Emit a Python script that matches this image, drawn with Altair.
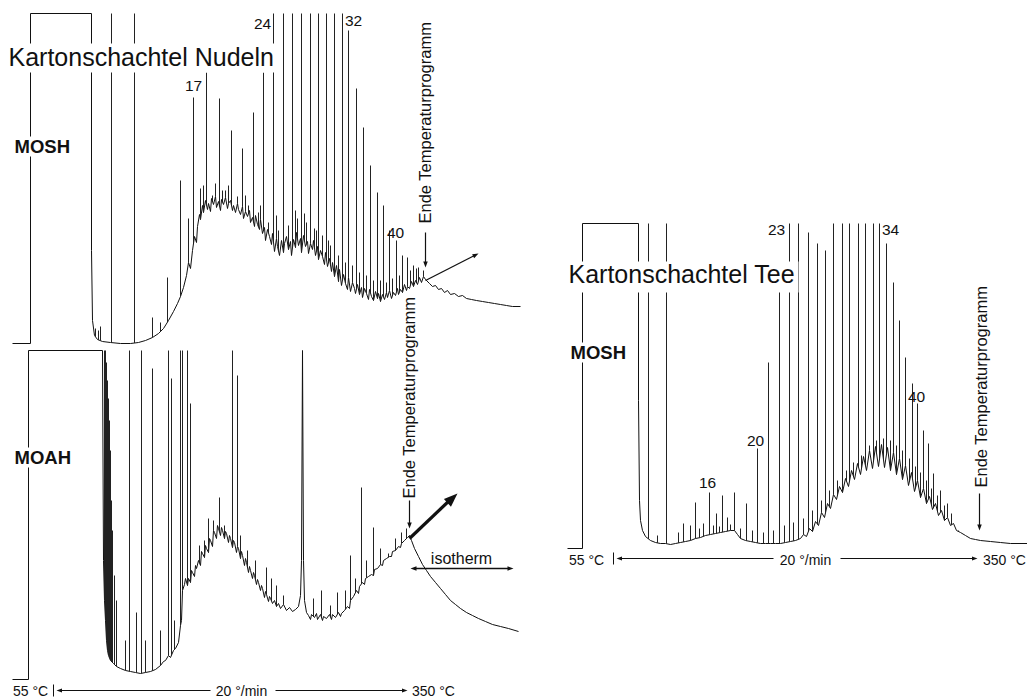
import altair as alt
import numpy as np
import pandas as pd

FONT = "Liberation Sans"
INK = "#111111"

# Page grid: x runs left to right, y runs downward (0 = top edge)
W, H = 1027, 698

# ---------- Kartonschachtel Nudeln, MOSH fraction ----------
nudeln_mosh_trace = [
    (12, 343), (30, 343), (30, 13), (91, 13), (91, 250), (92, 320), (94, 335), (97, 339),
    (102, 341), (110, 342), (120, 343), (130, 343), (138, 342), (145, 340), (152, 337),
    (158, 333), (163, 328), (168, 320), (173, 311), (177, 303), (180, 296), (183, 287),
    (186, 275), (188, 262), (190, 268), (192, 250), (194, 236), (196, 242), (197, 226),
    (199, 214), (200, 219), (202, 205), (203, 212), (205, 200), (207, 209), (208, 203),
    (210, 211), (211, 198), (213, 204), (215, 196), (216, 207), (218, 201), (220, 210),
    (221, 199), (223, 204), (225, 197), (227, 208), (228, 203), (230, 200), (232, 210),
    (233, 205), (235, 212), (237, 203), (238, 209), (240, 214), (242, 206), (243, 218),
    (245, 211), (247, 216), (249, 210), (250, 222), (252, 217), (254, 226), (255, 215),
    (257, 224), (259, 229), (260, 219), (262, 233), (264, 227), (265, 240), (267, 229),
    (269, 236), (271, 244), (272, 233), (274, 251), (276, 238), (277, 246), (279, 255),
    (281, 240), (283, 252), (284, 243), (286, 236), (288, 249), (290, 241), (291, 255),
    (293, 239), (295, 247), (296, 232), (298, 245), (300, 238), (301, 252), (303, 235),
    (305, 246), (307, 241), (308, 253), (310, 243), (312, 249), (313, 240), (315, 255),
    (317, 246), (318, 259), (320, 250), (322, 256), (324, 264), (325, 252), (327, 266),
    (329, 258), (331, 271), (332, 262), (334, 276), (336, 265), (338, 281), (339, 269),
    (341, 285), (343, 274), (345, 283), (347, 289), (348, 277), (350, 291), (352, 282),
    (354, 288), (355, 293), (357, 284), (359, 294), (361, 287), (362, 297), (364, 288),
    (366, 293), (368, 299), (369, 289), (371, 296), (373, 300), (375, 291), (377, 298),
    (378, 293), (380, 301), (382, 294), (384, 299), (386, 292), (387, 297), (389, 290),
    (391, 298), (393, 292), (395, 295), (397, 288), (398, 294), (400, 289), (402, 292),
    (404, 284), (406, 290), (407, 286), (409, 288), (411, 281), (413, 286), (415, 280),
    (417, 284), (419, 277), (421, 282), (423, 276), (425, 279), (429, 283), (432, 286),
    (435, 285), (438, 289), (441, 288), (444, 292), (447, 290), (450, 294), (454, 293),
    (458, 296), (462, 295), (466, 298), (471, 299), (476, 300), (482, 301), (488, 302),
    (494, 303), (500, 304), (506, 305), (512, 306), (520, 306),
]
nudeln_mosh_peaks = [
    (95, 328), (98, 330), (100, 326), (111, 13), (134, 13), (152, 317), (160, 322),
    (167, 277), (180, 180), (188, 218), (193, 97), (200, 188), (203, 185), (206, 72),
    (212, 195), (215, 183), (219, 98), (222, 190), (225, 190), (228, 185), (231, 130),
    (237, 196), (242, 148), (245, 195), (248, 205), (253, 112), (258, 212), (260, 205),
    (263, 72), (268, 222), (273, 13), (276, 215), (278, 230), (283, 13), (288, 225),
    (292, 13), (295, 210), (297, 218), (301, 13), (304, 213), (306, 222), (310, 13),
    (314, 228), (316, 230), (318, 13), (322, 235), (326, 13), (328, 240), (330, 245),
    (334, 13), (338, 255), (342, 13), (345, 262), (348, 30), (352, 265), (356, 88),
    (359, 272), (363, 127), (366, 275), (370, 165), (373, 280), (377, 192), (380, 280),
    (383, 205), (386, 282), (389, 230), (392, 278), (396, 240), (399, 275), (402, 255),
    (407, 257), (410, 270), (413, 265), (416, 268), (418, 267), (423, 270),
]

# ---------- Kartonschachtel Nudeln, MOAH fraction ----------
nudeln_moah_trace = [
    (12, 679), (28, 679), (28, 350), (102, 350), (103, 560), (104, 600), (105, 620),
    (106, 640), (107, 650), (108, 655), (110, 660), (113, 663), (116, 666), (120, 668),
    (125, 670), (130, 671), (135, 672), (140, 673), (145, 672), (150, 671), (155, 669),
    (160, 665), (163, 661), (165, 660), (168, 655), (170, 657), (173, 650), (175, 648),
    (178, 642), (180, 625), (181, 620), (182, 590), (184, 584), (185, 578), (187, 585),
    (188, 578), (190, 582), (191, 570), (192, 572), (194, 576), (195, 565), (196, 568),
    (198, 560), (200, 565), (201, 551), (202, 553), (204, 557), (205, 545), (206, 548),
    (208, 552), (209, 538), (210, 540), (212, 546), (213, 530), (214, 532), (216, 538),
    (217, 525), (218, 528), (220, 535), (221, 527), (222, 530), (224, 538), (225, 531),
    (226, 533), (228, 542), (229, 535), (230, 538), (232, 547), (233, 540), (234, 542),
    (236, 552), (237, 546), (238, 548), (240, 558), (241, 551), (242, 555), (244, 565),
    (245, 558), (246, 562), (248, 572), (249, 566), (250, 570), (252, 578), (253, 572),
    (254, 575), (256, 584), (257, 579), (258, 582), (260, 590), (261, 585), (262, 588),
    (264, 597), (265, 591), (266, 594), (268, 601), (269, 596), (270, 598), (272, 603),
    (274, 600), (276, 606), (278, 603), (280, 608), (283, 604), (286, 610), (289, 607),
    (292, 611), (295, 609), (298, 606), (300, 595), (301, 560), (302, 350), (303, 560),
    (304, 600), (306, 612), (308, 615), (310, 619), (311, 614), (314, 617), (316, 613),
    (317, 619), (320, 614), (322, 620), (323, 616), (326, 618), (329, 614), (331, 619),
    (332, 614), (335, 617), (338, 612), (340, 616), (341, 613), (344, 610), (347, 606),
    (349, 608), (350, 600), (353, 596), (356, 590), (358, 593), (359, 586), (362, 582),
    (364, 584), (365, 578), (368, 576), (371, 574), (373, 575), (374, 569), (377, 568),
    (380, 564), (382, 565), (383, 560), (386, 558), (389, 556), (391, 556), (392, 551),
    (395, 550), (398, 546), (400, 547), (401, 543), (404, 540), (407, 537), (409, 535),
    (411, 540), (414, 548), (418, 556), (422, 564), (426, 570), (430, 576), (435, 582),
    (440, 588), (445, 594), (450, 600), (455, 604), (460, 608), (466, 612), (472, 615),
    (478, 618), (485, 621), (492, 624), (500, 626), (508, 628), (518, 631),
]
nudeln_moah_peaks = [
    (104, 350), (105, 350), (106, 362), (107, 380), (108, 398), (109, 420), (110, 450),
    (111, 500), (112, 530), (114, 575), (116, 600), (125, 640), (129, 350), (136, 612),
    (141, 350), (145, 640), (152, 368), (160, 630), (168, 350), (171, 378), (174, 620),
    (180, 350), (182, 350), (187, 350), (190, 403), (199, 545), (204, 540), (208, 518),
    (213, 520), (219, 497), (224, 525), (232, 350), (237, 375), (240, 535), (247, 550),
    (255, 560), (266, 567), (271, 578), (276, 585), (283, 595), (313, 598), (321, 590),
    (330, 605), (337, 592), (345, 590), (350, 555), (355, 578), (361, 487), (366, 560),
    (373, 527), (380, 548), (388, 553), (395, 538), (401, 532), (406, 528),
]

# ---------- Kartonschachtel Tee, MOSH fraction ----------
tee_mosh_trace = [
    (567, 548), (582, 548), (582, 223), (638, 223), (638, 400), (639, 500), (640, 520),
    (642, 530), (645, 536), (650, 540), (655, 542), (660, 543), (665, 543), (670, 544),
    (675, 543), (680, 542), (685, 541), (690, 540), (695, 538), (700, 537), (705, 535),
    (710, 534), (715, 533), (720, 532), (725, 531), (730, 530), (734, 530), (737, 534),
    (740, 538), (745, 540), (750, 541), (755, 542), (760, 543), (765, 543), (770, 543),
    (775, 543), (780, 543), (785, 542), (790, 541), (795, 540), (800, 538), (803, 534),
    (806, 536), (809, 528), (812, 531), (815, 521), (818, 525), (821, 512), (824, 517),
    (827, 503), (830, 508), (833, 494), (836, 499), (839, 486), (842, 492), (845, 478),
    (848, 486), (851, 470), (854, 479), (857, 463), (860, 474), (863, 456), (866, 470),
    (869, 450), (872, 468), (875, 446), (878, 466), (881, 444), (884, 467), (887, 447),
    (890, 470), (893, 452), (896, 474), (899, 458), (902, 479), (905, 465), (908, 485),
    (911, 472), (914, 491), (917, 480), (920, 497), (923, 488), (926, 503), (929, 496),
    (932, 509), (935, 503), (938, 515), (941, 510), (944, 520), (947, 517), (950, 525),
    (953, 523), (956, 530), (960, 532), (965, 535), (970, 538), (975, 539), (980, 540),
    (990, 541), (1000, 542), (1010, 543), (1027, 543),
]
tee_mosh_peaks = [
    (648, 223), (657, 535), (666, 223), (678, 532), (683, 523), (690, 525), (695, 502),
    (699, 528), (703, 523), (709, 492), (713, 525), (716, 513), (719, 526), (722, 495),
    (727, 517), (730, 524), (734, 492), (740, 528), (746, 503), (752, 530), (757, 448),
    (763, 532), (768, 362), (773, 530), (779, 288), (784, 525), (789, 223), (793, 522),
    (798, 223), (803, 518), (808, 232), (812, 510), (817, 243), (821, 500), (825, 250),
    (829, 490), (833, 223), (837, 480), (842, 223), (846, 470), (849, 223), (853, 462),
    (858, 223), (861, 455), (865, 223), (869, 445), (873, 223), (876, 440), (879, 223),
    (883, 438), (886, 243), (890, 440), (893, 282), (896, 445), (899, 320), (902, 450),
    (905, 357), (909, 458), (912, 383), (915, 466), (917, 403), (920, 472), (923, 430),
    (926, 480), (928, 443), (931, 488), (933, 473), (937, 495), (940, 490), (944, 505),
    (947, 503), (951, 513), (953, 523), (958, 530),
]

panels = {
    "nudeln_mosh": (nudeln_mosh_trace, nudeln_mosh_peaks),
    "nudeln_moah": (nudeln_moah_trace, nudeln_moah_peaks),
    "tee_mosh": (tee_mosh_trace, tee_mosh_peaks),
}

# ---------- text ----------
titles = [("Kartonschachtel Nudeln", 8, 65), ("Kartonschachtel Tee", 568, 282)]
fraction_labels = [("MOSH", 14, 152), ("MOAH", 14, 463), ("MOSH", 570, 358)]
carbon_labels = [
    ("17", 193, 90), ("24", 262, 28), ("32", 353, 25), ("40", 395, 237),
    ("16", 707, 487), ("20", 755, 445), ("23", 776, 234), ("34", 890, 234), ("40", 916, 401),
]
program_labels = [
    ("55 °C", 30, 695), ("20 °/min", 241, 695), ("350 °C", 433, 695),
    ("55 °C", 586, 564), ("20 °/min", 805, 564), ("350 °C", 1004, 564),
]
isotherm_label = [("isotherm", 461, 563)]
end_labels = [("Ende Temperaturprogramm", 425, 223), ("Ende Temperaturprogramm", 409, 498),
              ("Ende Temperaturprogramm", 981, 487)]
# white backing behind labels that sit over the traces
label_boxes = [(5, 281, 43, 72), (565, 798, 261, 292), (12, 76, 136, 156),
               (12, 76, 447, 467), (568, 632, 342, 362)]

# ---------- arrows: shaft (x, y, x2, y2, width) and head (x, y, angle, size) ----------
arrow_shafts = [
    (425, 232, 425, 262, 1.2), (425, 280, 474, 255, 1.3),
    (409, 500, 409, 523, 1.2), (409, 538, 450, 499, 3.2), (414, 568, 509, 568, 1.6),
    (979, 493, 979, 525, 1.2),
    (53, 684, 53, 696, 1.0), (60, 690, 210, 690, 1.0), (275, 690, 403, 690, 1.0),
    (613, 552, 613, 564, 1.0), (620, 558, 773, 558, 1.0), (840, 558, 973, 558, 1.0),
]
arrow_heads = [
    (425, 267, 90, 36), (478, 253, 333, 36),
    (409, 528, 90, 36), (457, 493, 317, 190), (410, 568, 180, 36), (513, 568, 0, 36),
    (979, 530, 90, 36),
    (56, 690, 180, 30), (407, 690, 0, 30), (616, 558, 180, 30), (977, 558, 0, 30),
]

# ---------- tables ----------
trace_rows, peak_rows = [], []
for name, (trace, peaks) in panels.items():
    xs = np.array([p[0] for p in trace], dtype=float)
    ys = np.array([p[1] for p in trace], dtype=float)
    for i, (x, y) in enumerate(trace):
        trace_rows.append({"panel": name, "i": i, "x": x, "y": y})
    for x, top in peaks:
        peak_rows.append({"panel": name, "x": x, "top": top, "foot": float(np.interp(x, xs, ys))})
traces = pd.DataFrame(trace_rows)
peaks_df = pd.DataFrame(peak_rows)


def text_df(rows):
    return pd.DataFrame(rows, columns=["text", "x", "y"])


boxes = pd.DataFrame(label_boxes, columns=["x", "x2", "y", "y2"])
shafts = pd.DataFrame(arrow_shafts, columns=["x", "y", "x2", "y2", "w"])
heads = pd.DataFrame(arrow_heads, columns=["x", "y", "angle", "size"])

# half-unit offset puts integer grid values on pixel centres (crisp 1px strokes)
xs_ = alt.Scale(domain=[-0.5, W - 0.5], nice=False, zero=False)
ys_ = alt.Scale(domain=[-0.5, H - 0.5], nice=False, zero=False, reverse=True)
X = lambda f="x": alt.X(f"{f}:Q", scale=xs_, axis=None)
Y = lambda f="y": alt.Y(f"{f}:Q", scale=ys_, axis=None)

trace_layer = alt.Chart(traces).mark_line(color=INK, strokeWidth=1.0).encode(
    x=X(), y=Y(), detail="panel:N", order="i:Q"
)
peak_layer = alt.Chart(peaks_df).mark_rule(color="#222222", strokeWidth=1.0).encode(
    x=X(), y=Y("top"), y2="foot:Q"
)
box_layer = alt.Chart(boxes).mark_rect(color="white").encode(x=X(), x2="x2:Q", y=Y(), y2="y2:Q")


def texts(rows, size, align="center", weight="normal", angle=0, baseline="alphabetic"):
    return alt.Chart(text_df(rows)).mark_text(
        font=FONT, fontSize=size, fontWeight=weight, align=align, baseline=baseline,
        angle=angle, color="#111",
    ).encode(x=X(), y=Y(), text="text:N")


shaft_layer = alt.Chart(shafts).mark_rule(color="#111").encode(
    x=X(), y=Y(), x2="x2:Q", y2="y2:Q", strokeWidth=alt.StrokeWidth("w:Q", scale=None)
)
head_layer = alt.Chart(heads).mark_point(
    shape="M0,0L-2,-0.75L-2,0.75Z", filled=True, color="#111", opacity=1, strokeWidth=0
).encode(
    x=X(), y=Y(), angle=alt.Angle("angle:Q", scale=None), size=alt.Size("size:Q", scale=None)
)

chart = alt.layer(
    trace_layer,
    peak_layer,
    box_layer,
    texts(titles, 25, align="left"),
    texts(fraction_labels, 18.5, align="left", weight="bold"),
    texts(carbon_labels, 15.5),
    texts(program_labels, 14),
    texts(isotherm_label, 16),
    texts(end_labels, 16.5, align="left", angle=270, baseline="middle"),
    shaft_layer,
    head_layer,
).properties(
    width=W, height=H, padding=0, autosize=alt.AutoSizeParams(type="none"), background="white"
).configure_view(stroke=None)

chart.save("out.html", embed_options={"renderer": "svg", "actions": False})
